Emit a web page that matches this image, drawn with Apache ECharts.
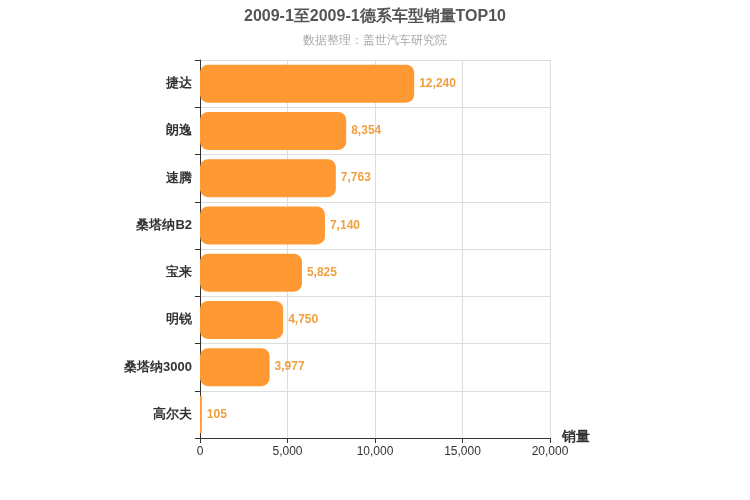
<!DOCTYPE html>
<html><head><meta charset="utf-8">
<script src="https://cdn.jsdelivr.net/npm/echarts@6/dist/echarts.min.js"></script>
<style>html,body{margin:0;padding:0;background:#fff}#c{width:750px;height:500px}</style>
</head><body><div id="c"></div>
<script>
const categories = ['高尔夫', '桑塔纳3000', '明锐', '宝来', '桑塔纳B2', '速腾', '朗逸', '捷达'];
const sales = [105, 3977, 4750, 5825, 7140, 7763, 8354, 12240];

const chart = echarts.init(document.getElementById('c'));
chart.setOption({
  animation: false,
  title: {
    text: '2009-1至2009-1德系车型销量TOP10', subtext: '数据整理：盖世汽车研究院',
    left: 'center', top: 4,
    textStyle: { fontSize: 16, fontWeight: 'bold', color: '#555' },
    subtextStyle: { fontSize: 12, color: '#aaa' }, itemGap: 10
  },
  grid: { left: 200, right: 200, top: 60, bottom: 62 },
  xAxis: {
    type: 'value', min: 0, max: 20000, interval: 5000,
    name: '销量', nameLocation: 'end', nameGap: 12,
    nameTextStyle: { fontSize: 14, fontWeight: 'bold', color: '#333', verticalAlign: 'top', padding: [-8, 0, 0, 0] },
    axisLine: { show: true, lineStyle: { color: '#333' } },
    axisTick: { show: true },
    axisLabel: { color: '#333', fontSize: 12, formatter: v => v.toLocaleString('en-US') },
    splitLine: { lineStyle: { color: '#ddd' } }
  },
  yAxis: {
    type: 'category', data: categories,
    axisLine: { lineStyle: { color: '#333' } },
    axisTick: { show: true },
    axisLabel: { color: '#333', fontSize: 13, fontWeight: 'bold' },
    splitLine: { show: true, lineStyle: { color: '#ddd' } }
  },
  series: [{
    type: 'bar', data: sales, barWidth: 38,
    itemStyle: { color: '#ff9933', borderRadius: 8 },
    label: {
      show: true, position: 'right', color: '#f0a040', fontWeight: 'bold', fontSize: 12,
      formatter: p => p.value.toLocaleString('en-US')
    }
  }]
});
</script></body></html>
